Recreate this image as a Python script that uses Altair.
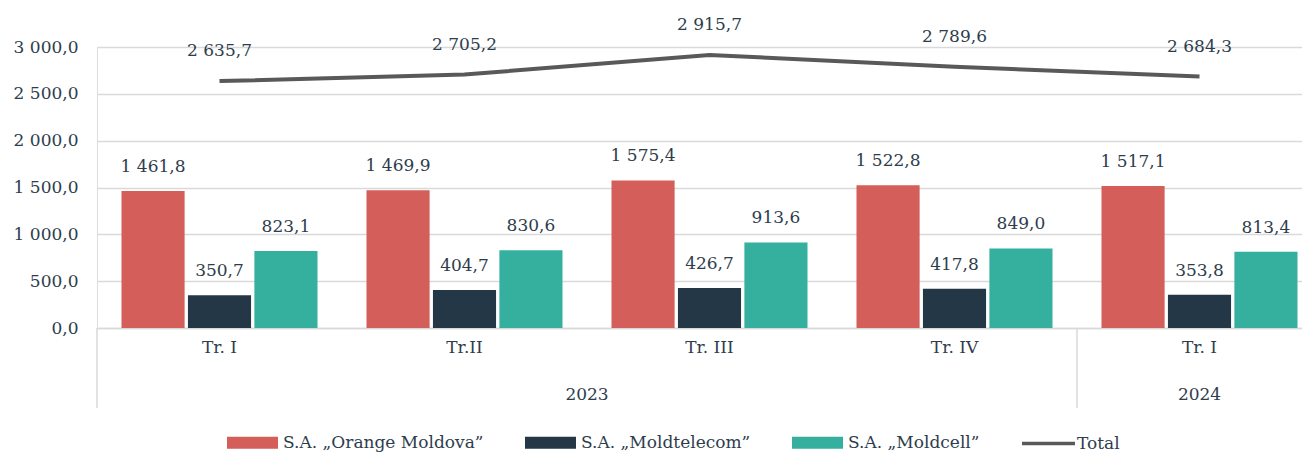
import altair as alt
import pandas as pd

quarters = ["Tr. I", "Tr.II", "Tr. III", "Tr. IV", "Tr. I"]
years = ["2023", "2023", "2023", "2023", "2024"]
series = ["S.A. „Orange Moldova”", "S.A. „Moldtelecom”", "S.A. „Moldcell”"]
orange = [1461.8, 1469.9, 1575.4, 1522.8, 1517.1]
moldtelecom = [350.7, 404.7, 426.7, 417.8, 353.8]
moldcell = [823.1, 830.6, 913.6, 849.0, 813.4]
total = [2635.7, 2705.2, 2915.7, 2789.6, 2684.3]
year_labels = ["2023", "2024"]
year_mid = [2.0, 4.5]
separators = [0, 4, 5]

colors = ["#D45E5A", "#243746", "#36B09E"]
line_color = "#595959"
text_color = "#2E3D4C"
FONT = "DejaVu Serif"

keys = [f"{q}|{y}" for q, y in zip(quarters, years)]


def fmt(v):
    s = f"{v:,.1f}"
    return s.replace(",", " ").replace(".", ",")


rows = []
for i, k in enumerate(keys):
    for s, vals in zip(series, [orange, moldtelecom, moldcell]):
        rows.append({"cat": k, "series": s, "value": vals[i], "label": fmt(vals[i])})
bars_df = pd.DataFrame(rows)
tot_df = pd.DataFrame({"cat": keys, "series": ["Total"] * 5, "value": total,
                       "label": [fmt(v) for v in total]})
year_df = pd.DataFrame({"year": year_labels, "pos": year_mid})
sep_df = pd.DataFrame({"pos": separators})

W, H = 1205, 281
xscale = alt.Scale(domain=keys, range=[0, 1225], paddingInner=0.2, paddingOuter=0.1)
xaxis = alt.Axis(title=None, labelExpr="split(datum.value, '|')[0]",
                 ticks=False, domain=True, domainColor="#D9D9D9", domainWidth=1.5,
                 labelFont=FONT, labelFontSize=17, labelColor=text_color,
                 labelPadding=11, labelAngle=0, grid=False)
xenc = alt.X("cat:N", scale=xscale, sort=keys, axis=xaxis)
yscale = alt.Scale(domain=[0, 3000])
yaxis = alt.Axis(title=None, values=[0, 500, 1000, 1500, 2000, 2500, 3000],
                 labelExpr="replace(replace(format(datum.value, ',.1f'), ',', ' '), '.', ',')",
                 ticks=False, domain=False, grid=True, gridColor="#D9D9D9", gridWidth=1.5,
                 labelFont=FONT, labelFontSize=17, labelColor=text_color,
                 labelPadding=19)
yenc = alt.Y("value:Q", scale=yscale, axis=yaxis)
xoff = alt.XOffset("series:N", sort=series,
                   scale=alt.Scale(domain=series, paddingInner=0.05, paddingOuter=0))

bars = alt.Chart(bars_df).mark_bar().encode(
    x=xenc, y=yenc, xOffset=xoff,
    fill=alt.Fill("series:N", sort=series,
                  scale=alt.Scale(domain=series, range=colors),
                  legend=alt.Legend(title=None, orient="none", legendX=130, legendY=370,
                                    direction="horizontal", columns=3,
                                    symbolType="M-1,-0.235H1V0.235H-1Z", symbolSize=2601,
                                    symbolStrokeWidth=0, symbolOpacity=1,
                                    labelFont=FONT, labelFontSize=17, labelColor=text_color,
                                    labelOffset=5, columnPadding=41, labelLimit=400)),
)
bar_text = alt.Chart(bars_df).mark_text(font=FONT, fontSize=17, color=text_color,
                                        baseline="middle", dy=-24).encode(
    x=xenc, y=yenc, xOffset=xoff, text="label:N")

line = alt.Chart(tot_df).mark_line(strokeWidth=4).encode(
    x=xenc, y=yenc,
    stroke=alt.Stroke("series:N", scale=alt.Scale(domain=["Total"], range=[line_color]),
                      legend=alt.Legend(title=None, orient="none", legendX=923, legendY=368,
                                        symbolType="stroke", symbolSize=2809,
                                        symbolStrokeWidth=3.5,
                                        labelFont=FONT, labelFontSize=17, labelColor=text_color,
                                        labelOffset=0)),
)
line_text = alt.Chart(tot_df).mark_text(font=FONT, fontSize=17, color=text_color,
                                        baseline="middle", dy=-30).encode(
    x=xenc, y=yenc, text="label:N")

qscale = alt.Scale(domain=[0, 5], range=[0, 1225], nice=False, zero=False)
seps = alt.Chart(sep_df).mark_rule(color="#D9D9D9", strokeWidth=1.5).encode(
    x=alt.X("pos:Q", scale=qscale, axis=None),
    y=alt.value(H), y2=alt.value(H + 80))
year_text = alt.Chart(year_df).mark_text(font=FONT, fontSize=17, color=text_color,
                                         baseline="middle").encode(
    x=alt.X("pos:Q", scale=qscale, axis=None),
    y=alt.value(H + 67), text="year:N")

base = alt.layer(bars, bar_text, line, line_text)
chart = alt.layer(base, seps, year_text).resolve_scale(x="independent").properties(
    width=W, height=H,
    autosize=alt.AutoSizeParams(type="none"),
    padding={"left": 89, "top": 39, "right": 0, "bottom": 125},
).configure_view(stroke=None).configure(background="white")

chart.save("out.html", embed_options={"renderer": "svg", "actions": False})
